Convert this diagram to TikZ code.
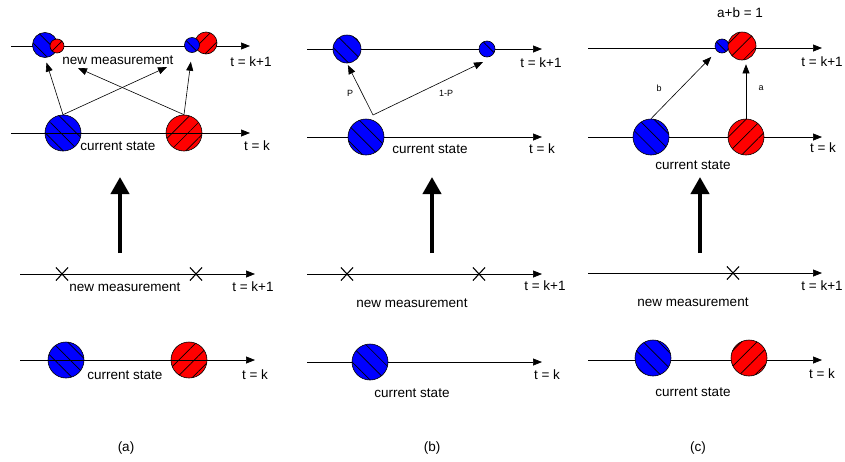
\documentclass[tikz,border=0pt]{standalone}
\usepackage{fontspec}
\setmainfont{Liberation Sans}
\usetikzlibrary{arrows.meta,patterns.meta,shapes.misc,positioning}

\begin{document}
\begin{tikzpicture}[
  x=1pt, y=-1pt,
  axis/.style={-{Triangle[length=9pt,width=7pt]}, line width=0.7pt},
  ball/.style={circle, draw, line width=0.6pt, inner sep=0pt, minimum size=#1},
  blueball/.style={ball=#1, fill=blue,
    postaction={pattern={Lines[angle=-45,distance=11pt,line width=0.7pt]}}},
  redball/.style={ball=#1, fill=red,
    postaction={pattern={Lines[angle=45,distance=11pt,line width=0.7pt]}}},
  lbl/.style={font=\fontsize{13.5}{16}\selectfont, inner sep=1pt},
  small/.style={font=\fontsize{9}{11}\selectfont, inner sep=1pt},
  msg/.style={-{Triangle[length=9pt,width=7pt]}, line width=0.6pt},
  big/.style={-{Triangle[length=17pt,width=18pt]}, line width=4pt},
  meas/.style={cross out, draw, line width=1.1pt, minimum width=11pt,
    minimum height=12pt, inner sep=0pt}
]
  \useasboundingbox (0,0) rectangle (845,461);

  % (a) after the measurement
  \draw[axis] (11,46) coordinate (a1l) -- (250,46) coordinate (a1r);
  \node[blueball=25pt] (aB1) at (45,45) {};
  \node[redball=14pt] (aR1) at (57,46) {};
  \node[redball=22pt] (aR2) at (206,43) {};
  \node[blueball=15pt] (aB2) at (192,45) {};
  \node[blueball=36pt] (aB) at (63,133) {};
  \node[redball=36pt] (aR) at (184,133) {};
  \draw[axis] (11,133) coordinate (a0l) -- (250,133) coordinate (a0r);
  \node[lbl] (aNew) at (118,60) {new measurement};
  \node[lbl] (aCur) at (118,146) {current state};
  \node[lbl] (aT1) at (251,62) {t = k+1};
  \node[lbl] (aT0) at (257,146) {t = k};
  \coordinate (aTo1) at (167,67);
  \coordinate (aTo2) at (78,68);
  \draw[msg, shorten >=5pt] (aB.north) -- (aB1.south);
  \draw[msg] (aB.north) -- (aTo1);
  \draw[msg] (aR.north) -- (aTo2);
  \draw[msg, shorten >=9pt] (aR.north) -- (aB2.south);

  % (a) before the measurement
  \node[meas] (aX1) at (62,274) {};
  \node[meas] (aX2) at (196,274) {};
  \draw[axis] (20,274) coordinate (a3l) -- (255,274) coordinate (a3r);
  \node[lbl] (aNew2) at (125,287) {new measurement};
  \node[lbl] (aT3) at (253,287) {t = k+1};
  \node[blueball=36pt] (aB3) at (66,360) {};
  \node[redball=36pt] (aR3) at (189,360) {};
  \draw[axis] (20,360) coordinate (a2l) -- (255,360) coordinate (a2r);
  \node[lbl] (aCur2) at (125,375) {current state};
  \node[lbl] (aT2) at (255,375) {t = k};

  \draw[big] (120,253) coordinate (aUp0) -- (120,177) coordinate (aUp1);
  \node[lbl] (aCap) at (126,448) {(a)};

  % (b) after the measurement
  \draw[axis] (307,49) coordinate (b1l) -- (542,49) coordinate (b1r);
  \draw[axis] (307,137) coordinate (b0l) -- (542,137) coordinate (b0r);
  \node[blueball=28pt] (bB1) at (347,49) {};
  \node[blueball=16pt] (bB2) at (487,49) {};
  \node[blueball=36pt] (bB) at (366,137) {};
  \node[lbl] (bCur) at (430,149) {current state};
  \node[lbl] (bT1) at (541,63) {t = k+1};
  \node[lbl] (bT0) at (542,149) {t = k};
  \coordinate (bFork) at (373,115);
  \coordinate (bTo) at (483,62);
  \draw[msg, shorten >=2pt] (bFork) -- (bB1.south);
  \draw[msg] (bFork) -- (bTo);
  \node[small] (bP) at (350,93) {P};
  \node[small] (bQ) at (446,93) {1-P};

  % (b) before the measurement
  \draw[axis] (307,274) coordinate (b3l) -- (542,274) coordinate (b3r);
  \node[meas] (bX1) at (347,274) {};
  \node[meas] (bX2) at (479,274) {};
  \node[lbl] (bNew2) at (412,303) {new measurement};
  \node[lbl] (bT3) at (545,286) {t = k+1};
  \draw[axis] (307,362) coordinate (b2l) -- (542,362) coordinate (b2r);
  \node[blueball=36pt] (bB3) at (370,362) {};
  \node[lbl] (bCur2) at (412,393) {current state};
  \node[lbl] (bT2) at (547,375) {t = k};

  \draw[big] (432,253) coordinate (bUp0) -- (432,177) coordinate (bUp1);
  \node[lbl] (bCap) at (432,448) {(b)};

  % (c) after the measurement
  \draw[axis] (588,48) coordinate (c1l) -- (822,48) coordinate (c1r);
  \draw[axis] (588,137) coordinate (c0l) -- (822,137) coordinate (c0r);
  \node[blueball=14pt] (cB1) at (722,46) {};
  \node[redball=28pt] (cR1) at (742,46) {};
  \node[blueball=36pt] (cB) at (651,137) {};
  \node[redball=36pt] (cR) at (746,137) {};
  \node[lbl] (cSum) at (740,13) {a+b = 1};
  \node[lbl] (cCur) at (693,165) {current state};
  \node[lbl] (cT1) at (822,62) {t = k+1};
  \node[lbl] (cT0) at (823,148) {t = k};
  \draw[msg, shorten >=8pt] (cB.north) -- (cB1.south west);
  \draw[msg, shorten >=4pt] (cR.north) -- (cR1.south -| cR.north);
  \node[small] (cb) at (659,88) {b};
  \node[small] (ca) at (761,88) {a};

  % (c) before the measurement
  \draw[axis] (588,273) coordinate (c3l) -- (822,273) coordinate (c3r);
  \node[meas] (cX1) at (733,273) {};
  \node[lbl] (cNew2) at (693,302) {new measurement};
  \node[lbl] (cT3) at (822,286) {t = k+1};
  \draw[axis] (588,360) coordinate (c2l) -- (822,360) coordinate (c2r);
  \node[blueball=36pt] (cB3) at (653,358) {};
  \node[redball=36pt] (cR3) at (749,358) {};
  \node[lbl] (cCur2) at (693,392) {current state};
  \node[lbl] (cT2) at (822,374) {t = k};

  \draw[big] (700,253) coordinate (cUp0) -- (700,177) coordinate (cUp1);
  \node[lbl] (cCap) at (698,448) {(c)};
\end{tikzpicture}
\end{document}
